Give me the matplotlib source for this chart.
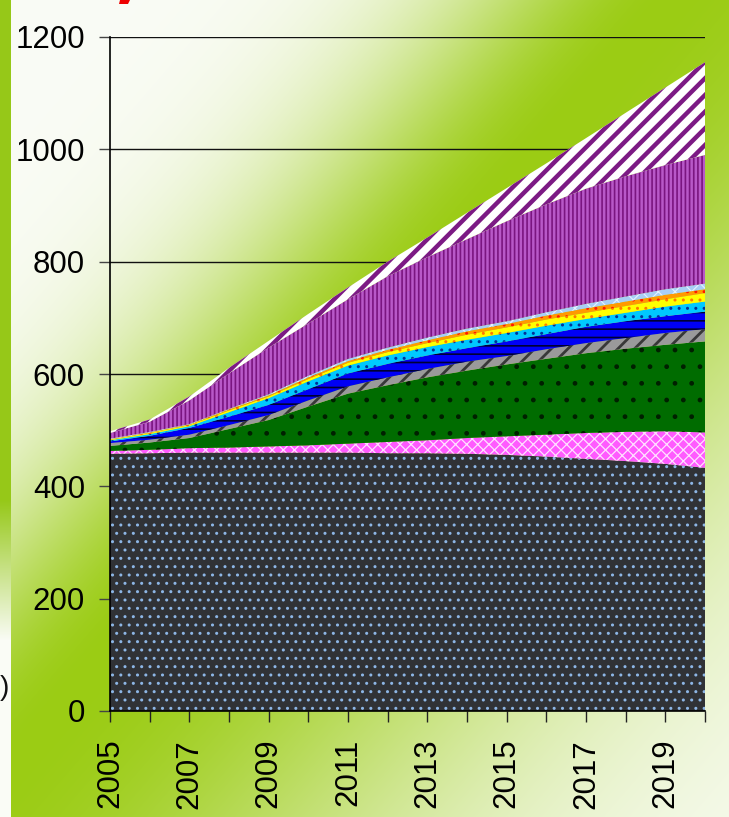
import numpy as np
import matplotlib
matplotlib.use('Agg')
import matplotlib.pyplot as plt
from matplotlib.patches import Polygon

# ---------------- data ----------------
years = list(range(2005, 2021))
x_tick_labels = ['2005', '', '2007', '', '2009', '', '2011', '', '2013', '',
                 '2015', '', '2017', '', '2019', '']
y_ticks = [0, 200, 400, 600, 800, 1000, 1200]

dark_dotted = [458, 459, 460, 460, 460, 460, 460, 459, 459, 458, 456, 453, 449, 445, 440, 433]
pink_cross = [5, 6, 8, 9, 11, 13, 16, 20, 23, 28, 33, 39, 46, 52, 58, 63]
green_dotted = [9, 13, 18, 33, 47, 69, 89, 101, 112, 120, 128, 135, 142, 148, 154, 162]
gray_striped = [5, 5, 6, 7, 9, 11, 13, 14, 15, 16, 15, 17, 18, 19, 21, 22]
blue_zigzag = [3, 7, 12, 15, 18, 20, 23, 24, 24, 24, 26, 27, 29, 30, 30, 31]
cyan_marks = [2, 3, 3, 8, 12, 14, 14, 15, 15, 15, 15, 15, 14, 15, 17, 18]
yellow_dots = [1, 2, 2, 3, 3, 4, 5, 6, 7, 9, 10, 11, 11, 12, 13, 15]
orange_dots = [1, 1, 1, 2, 2, 3, 3, 4, 5, 6, 6, 7, 8, 8, 8, 7]
light_blue = [1, 1, 1, 1, 2, 3, 4, 4, 5, 5, 5, 6, 8, 9, 10, 10]
purple_vertical = [10, 18, 42, 63, 83, 93, 106, 127, 143, 159, 178, 192, 205, 214, 221, 229]
purple_diagonal = [3, 4, 7, 10, 12, 17, 21, 26, 35, 47, 59, 73, 90, 113, 138, 165]

series = [dark_dotted, pink_cross, green_dotted, gray_striped, blue_zigzag,
          cyan_marks, yellow_dots, orange_dots, light_blue, purple_vertical,
          purple_diagonal]

# ---------------- style ----------------
styles = [
    dict(fc='#303236', hc='#8db6e6', hatch='..', hlw=1.0),
    dict(fc='#ff5aff', hc='#ffe0ff', hatch='xxx', hlw=0.9),
    dict(fc='#006c00', hc='#002000', hatch='.', hlw=1.0),
    dict(fc='#9a9a9a', hc='#383838', hatch='//', hlw=2.0),
    dict(fc='#0000f5', hc='#000033', hatch='--', hlw=1.2),
    dict(fc='#00c8ff', hc='#003399', hatch='..', hlw=1.0),
    dict(fc='#ffff00', hc='#ff7a00', hatch='..', hlw=1.0),
    dict(fc='#ff9a00', hc='#ff1a00', hatch='..', hlw=1.0),
    dict(fc='#a8cef5', hc='#e6f2ff', hatch='xx', hlw=0.8),
    dict(fc='#b858c8', hc='#7a1580', hatch='||||', hlw=1.2),
    dict(fc='#ffffff', hc='#7c1a84', hatch='//', hlw=3.2),
]

FONT = 'Liberation Sans'
plt.rcParams['font.family'] = [FONT, 'DejaVu Sans']

W, H = 729, 817
fig = plt.figure(figsize=(W / 100, H / 100), dpi=100)

# background gradient
yy, xx = np.mgrid[0:H, 0:W]
d = ((xx - 11) * 740 + (yy - 760) * 639) / 977.6
sig = np.where(d < 0, 170.0, 350.0)
w = np.exp(-(d / sig) ** 2)
green = np.array([155, 204, 20]) / 255
white = np.array([250, 252, 246]) / 255
img = white + (green - white) * w[..., None]
ws = np.clip((640 - yy) / 140.0, 0, 1)
strip_img = white + (np.array([150, 200, 25]) / 255 - white) * ws[..., None]
mask = xx < 11
img[mask] = strip_img[mask]

ax_bg = fig.add_axes([0, 0, 1, 1], zorder=0)
ax_bg.imshow(img, extent=(0, W, H, 0), aspect='auto', interpolation='bilinear')
ax_bg.set_xlim(0, W)
ax_bg.set_ylim(H, 0)
ax_bg.axis('off')
# small red mark at top & cut-off parenthesis on left
ax_bg.add_patch(Polygon([(120, 0), (130, 0), (128, 4), (119, 4)], closed=True,
                        facecolor='#ee0000', edgecolor='none'))
ax_bg.text(9, 688, ')', ha='right', va='center', fontsize=20, color='#111111')

# main axes
ax = fig.add_axes([110 / W, (H - 711) / H, 595 / W, 674 / H], zorder=1)
ax.patch.set_alpha(0)

x = np.array(years, dtype=float)
lower = np.zeros(len(years))
for vals, st in zip(series, styles):
    upper = lower + np.array(vals, dtype=float)
    coll = ax.fill_between(x, lower, upper, facecolor=st['fc'], edgecolor=st['hc'],
                           hatch=st['hatch'], linewidth=0, zorder=2)
    if hasattr(coll, 'set_hatch_linewidth'):
        coll.set_hatch_linewidth(st['hlw'])
    lower = upper

ax.set_xlim(2005, 2020)
ax.set_ylim(0, 1200)
ax.set_yticks(y_ticks)
ax.set_yticklabels([str(v) for v in y_ticks], fontsize=22.5)
ax.set_xticks(years)
ax.set_xticklabels(x_tick_labels, rotation=90, fontsize=22.5)
ax.set_axisbelow(True)
ax.yaxis.grid(True, color='#111111', linewidth=1.0, zorder=0)
ax.xaxis.grid(False)
for s in ['top', 'right']:
    ax.spines[s].set_visible(False)
for s in ['left', 'bottom']:
    ax.spines[s].set_color('black')
    ax.spines[s].set_linewidth(1.2)
    ax.spines[s].set_zorder(3)
ax.tick_params(axis='y', direction='out', length=8, width=1, color='#444444', pad=10)
ax.tick_params(axis='x', direction='out', length=8, width=1, color='#222222', pad=12)

fig.savefig('out.png', dpi=100)
